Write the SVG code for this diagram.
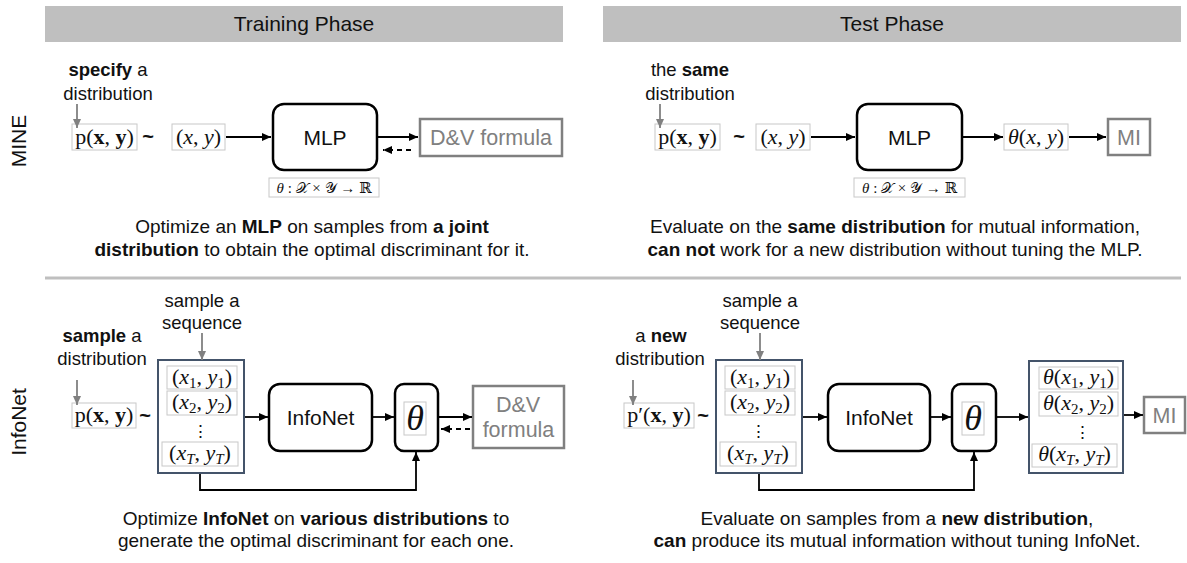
<svg xmlns="http://www.w3.org/2000/svg" width="1187" height="563" viewBox="0 0 1187 563">
  <style>
    text { font-family: "Liberation Sans", Arial, sans-serif; fill: #111; }
    .hdr { font-size: 21px; text-anchor: middle; }
    .side { font-size: 21px; text-anchor: middle; }
    .lbl { font-size: 18.5px; text-anchor: middle; }
    .cap { font-size: 19px; text-anchor: middle; }
    .b { font-weight: bold; }
    .node-t { font-size: 21px; text-anchor: middle; }
    .gray-t { font-size: 21.5px; text-anchor: middle; fill: #808080; }
    .m { font-family: "Liberation Serif", "DejaVu Serif", serif; font-size: 22px; text-anchor: middle; }
    .ml { font-family: "Liberation Serif", "DejaVu Serif", "DejaVu Sans", serif; font-size: 15px; text-anchor: middle; }
    .big { font-size: 36px; font-style: italic; }
    .dots { font-size: 17px; }
    .tilde { font-size: 20px; font-weight: bold; text-anchor: middle; }
    .sub { font-size: 15px; font-style: normal; }
    .i { font-style: italic; }
    .mbox { fill: #fff; stroke: #c8c8c8; stroke-width: 1; }
    .node { fill: #fff; stroke: #000; stroke-width: 2.5; }
    .gnode { fill: #fff; stroke: #808080; stroke-width: 2.5; }
    .seq { fill: #fff; stroke: #44546a; stroke-width: 2; }
    .hbar { fill: #bfbfbf; }
    .edge { fill: none; stroke: #000; stroke-width: 1.8; }
    .dash { fill: none; stroke: #000; stroke-width: 1.8; stroke-dasharray: 5 4; }
    .gedge { fill: none; stroke: #808080; stroke-width: 1.8; }
  </style>
  <defs>
    <marker id="ah" markerUnits="userSpaceOnUse" markerWidth="9" markerHeight="8" refX="9" refY="4" orient="auto">
      <path d="M0,0 L9,4 L0,8 z" fill="#000"/>
    </marker>
    <marker id="ahg" markerUnits="userSpaceOnUse" markerWidth="9" markerHeight="8" refX="9" refY="4" orient="auto">
      <path d="M0,0 L9,4 L0,8 z" fill="#808080"/>
    </marker>
  </defs>

  <!-- phase headers and row separator -->
  <g id="headers">
    <rect class="hbar" x="45" y="6" width="518" height="36"/>
    <text class="hdr" x="304" y="31">Training Phase</text>
    <rect class="hbar" x="603" y="6" width="578" height="36"/>
    <text class="hdr" x="892" y="31">Test Phase</text>
    <line x1="45" y1="278" x2="1181" y2="278" stroke="#bfbfbf" stroke-width="3"/>
  </g>

  <!-- row labels -->
  <g id="row-labels">
    <text class="side" transform="translate(26,141) rotate(-90)">MINE</text>
    <text class="side" transform="translate(26,422) rotate(-90)">InfoNet</text>
  </g>

  <!-- ============ MINE / training ============ -->
  <g id="mine-train-dist">
    <text class="lbl" x="108" y="76"><tspan class="b">specify</tspan> a</text>
    <text class="lbl" x="108" y="100">distribution</text>
    <rect class="mbox" x="72" y="124" width="65" height="26"/>
    <text class="m" x="104.5" y="144">p(<tspan class="b">x</tspan>, <tspan class="b">y</tspan>)</text>
    <text class="tilde" x="148" y="143">~</text>
  </g>
  <g id="mine-train-sample">
    <rect class="mbox" x="172" y="124" width="53" height="26"/>
    <text class="m" x="198.5" y="144">(<tspan class="i">x</tspan>, <tspan class="i">y</tspan>)</text>
  </g>
  <g id="mine-train-mlp">
    <rect class="node" x="273" y="104" width="104" height="66" rx="11"/>
    <text class="node-t" x="325" y="145">MLP</text>
    <rect class="mbox" x="269" y="178" width="110" height="19"/>
    <text class="ml" x="324" y="193"><tspan class="i">θ</tspan> : 𝒳 × 𝒴 → ℝ</text>
  </g>
  <g id="mine-train-dv">
    <rect class="gnode" x="420" y="119" width="142" height="37"/>
    <text class="gray-t" x="491" y="145">D&amp;V formula</text>
  </g>
  <g id="mine-train-caption">
    <text class="cap" x="312" y="233">Optimize an <tspan class="b">MLP</tspan> on samples from <tspan class="b">a joint</tspan></text>
    <text class="cap" x="312" y="256"><tspan class="b">distribution</tspan> to obtain the optimal discriminant for it.</text>
  </g>

  <!-- ============ MINE / test ============ -->
  <g id="mine-test-dist">
    <text class="lbl" x="690" y="76">the <tspan class="b">same</tspan></text>
    <text class="lbl" x="690" y="100">distribution</text>
    <rect class="mbox" x="655" y="124" width="65" height="26"/>
    <text class="m" x="687.5" y="144">p(<tspan class="b">x</tspan>, <tspan class="b">y</tspan>)</text>
    <text class="tilde" x="739" y="143">~</text>
  </g>
  <g id="mine-test-sample">
    <rect class="mbox" x="756" y="124" width="54" height="26"/>
    <text class="m" x="783" y="144">(<tspan class="i">x</tspan>, <tspan class="i">y</tspan>)</text>
  </g>
  <g id="mine-test-mlp">
    <rect class="node" x="857" y="104" width="105" height="66" rx="11"/>
    <text class="node-t" x="909.5" y="145">MLP</text>
    <rect class="mbox" x="854" y="178" width="111" height="19"/>
    <text class="ml" x="909.5" y="193"><tspan class="i">θ</tspan> : 𝒳 × 𝒴 → ℝ</text>
  </g>
  <g id="mine-test-score">
    <rect class="mbox" x="1004" y="124" width="64" height="26"/>
    <text class="m" x="1036" y="144"><tspan class="i">θ</tspan>(<tspan class="i">x</tspan>, <tspan class="i">y</tspan>)</text>
  </g>
  <g id="mine-test-mi">
    <rect class="gnode" x="1108" y="119" width="42" height="36"/>
    <text class="gray-t" x="1129" y="145">MI</text>
  </g>
  <g id="mine-test-caption">
    <text class="cap" x="895" y="233">Evaluate on the <tspan class="b">same distribution</tspan> for mutual information,</text>
    <text class="cap" x="895" y="256"><tspan class="b">can not</tspan> work for a new distribution without tuning the MLP.</text>
  </g>

  <!-- ============ InfoNet / training ============ -->
  <g id="info-train-dist">
    <text class="lbl" x="102" y="342"><tspan class="b">sample</tspan> a</text>
    <text class="lbl" x="102" y="365">distribution</text>
    <rect class="mbox" x="72" y="403" width="64" height="25"/>
    <text class="m" x="104" y="422">p(<tspan class="b">x</tspan>, <tspan class="b">y</tspan>)</text>
    <text class="tilde" x="145" y="422">~</text>
  </g>
  <g id="info-train-seq">
    <text class="lbl" x="202" y="307">sample a</text>
    <text class="lbl" x="202" y="329">sequence</text>
    <rect class="seq" x="158" y="360" width="86" height="113"/>
    <rect class="mbox" x="167" y="366" width="70" height="23"/>
    <text class="m" x="202" y="384">(<tspan class="i">x</tspan><tspan class="sub" dy="4">1</tspan><tspan dy="-4">, </tspan><tspan class="i">y</tspan><tspan class="sub" dy="4">1</tspan><tspan dy="-4">)</tspan></text>
    <rect class="mbox" x="167" y="391" width="70" height="24"/>
    <text class="m" x="202" y="409">(<tspan class="i">x</tspan><tspan class="sub" dy="4">2</tspan><tspan dy="-4">, </tspan><tspan class="i">y</tspan><tspan class="sub" dy="4">2</tspan><tspan dy="-4">)</tspan></text>
    <text class="m dots" x="200" y="437">⋮</text>
    <rect class="mbox" x="162" y="442" width="76" height="24"/>
    <text class="m" x="200" y="460">(<tspan class="i">x</tspan><tspan class="sub i" dy="4">T</tspan><tspan dy="-4">, </tspan><tspan class="i">y</tspan><tspan class="sub i" dy="4">T</tspan><tspan dy="-4">)</tspan></text>
  </g>
  <g id="info-train-net">
    <rect class="node" x="269" y="384" width="103" height="67" rx="11"/>
    <text class="node-t" x="320.5" y="425">InfoNet</text>
  </g>
  <g id="info-train-theta">
    <rect class="node" x="395" y="384" width="43" height="67" rx="9"/>
    <rect class="mbox" x="404" y="402" width="22" height="33"/>
    <text class="m big" x="415" y="430">θ</text>
  </g>
  <g id="info-train-dv">
    <rect class="gnode" x="473" y="386" width="91" height="62"/>
    <text class="gray-t" x="518" y="412">D&amp;V</text>
    <text class="gray-t" x="518.5" y="437">formula</text>
  </g>
  <g id="info-train-caption">
    <text class="cap" x="316" y="525">Optimize <tspan class="b">InfoNet</tspan> on <tspan class="b">various distributions</tspan> to</text>
    <text class="cap" x="316" y="547">generate the optimal discriminant for each one.</text>
  </g>

  <!-- ============ InfoNet / test ============ -->
  <g id="info-test-dist">
    <text class="lbl" x="661" y="342">a <tspan class="b">new</tspan></text>
    <text class="lbl" x="660" y="365">distribution</text>
    <rect class="mbox" x="624" y="403" width="70" height="25"/>
    <text class="m" x="659" y="422">p′(<tspan class="b">x</tspan>, <tspan class="b">y</tspan>)</text>
    <text class="tilde" x="703" y="422">~</text>
  </g>
  <g id="info-test-seq">
    <text class="lbl" x="760" y="307">sample a</text>
    <text class="lbl" x="760" y="329">sequence</text>
    <rect class="seq" x="716" y="360" width="86" height="113"/>
    <rect class="mbox" x="725" y="366" width="70" height="23"/>
    <text class="m" x="760" y="384">(<tspan class="i">x</tspan><tspan class="sub" dy="4">1</tspan><tspan dy="-4">, </tspan><tspan class="i">y</tspan><tspan class="sub" dy="4">1</tspan><tspan dy="-4">)</tspan></text>
    <rect class="mbox" x="725" y="391" width="70" height="24"/>
    <text class="m" x="760" y="409">(<tspan class="i">x</tspan><tspan class="sub" dy="4">2</tspan><tspan dy="-4">, </tspan><tspan class="i">y</tspan><tspan class="sub" dy="4">2</tspan><tspan dy="-4">)</tspan></text>
    <text class="m dots" x="758" y="437">⋮</text>
    <rect class="mbox" x="720" y="442" width="76" height="24"/>
    <text class="m" x="758" y="460">(<tspan class="i">x</tspan><tspan class="sub i" dy="4">T</tspan><tspan dy="-4">, </tspan><tspan class="i">y</tspan><tspan class="sub i" dy="4">T</tspan><tspan dy="-4">)</tspan></text>
  </g>
  <g id="info-test-net">
    <rect class="node" x="828" y="384" width="102" height="67" rx="11"/>
    <text class="node-t" x="879" y="425">InfoNet</text>
  </g>
  <g id="info-test-theta">
    <rect class="node" x="952" y="384" width="44" height="67" rx="9"/>
    <rect class="mbox" x="962" y="402" width="22" height="33"/>
    <text class="m big" x="973" y="430">θ</text>
  </g>
  <g id="info-test-scores">
    <rect class="seq" x="1029" y="361" width="94" height="112"/>
    <rect class="mbox" x="1039" y="367" width="79" height="22"/>
    <text class="m" x="1078.5" y="384"><tspan class="i">θ</tspan>(<tspan class="i">x</tspan><tspan class="sub" dy="4">1</tspan><tspan dy="-4">, </tspan><tspan class="i">y</tspan><tspan class="sub" dy="4">1</tspan><tspan dy="-4">)</tspan></text>
    <rect class="mbox" x="1039" y="392" width="79" height="24"/>
    <text class="m" x="1078.5" y="410"><tspan class="i">θ</tspan>(<tspan class="i">x</tspan><tspan class="sub" dy="4">2</tspan><tspan dy="-4">, </tspan><tspan class="i">y</tspan><tspan class="sub" dy="4">2</tspan><tspan dy="-4">)</tspan></text>
    <text class="m dots" x="1082" y="438">⋮</text>
    <rect class="mbox" x="1032" y="444" width="85" height="23"/>
    <text class="m" x="1074.5" y="461"><tspan class="i">θ</tspan>(<tspan class="i">x</tspan><tspan class="sub i" dy="4">T</tspan><tspan dy="-4">, </tspan><tspan class="i">y</tspan><tspan class="sub i" dy="4">T</tspan><tspan dy="-4">)</tspan></text>
  </g>
  <g id="info-test-mi">
    <rect class="gnode" x="1144" y="397" width="41" height="36"/>
    <text class="gray-t" x="1164.5" y="423">MI</text>
  </g>
  <g id="info-test-caption">
    <text class="cap" x="897" y="525">Evaluate on samples from a <tspan class="b">new distribution</tspan>,</text>
    <text class="cap" x="897" y="547"><tspan class="b">can</tspan> produce its mutual information without tuning InfoNet.</text>
  </g>

  <!-- ============ connectors ============ -->
  <g id="connectors">
    <!-- MINE training -->
    <line class="gedge" x1="77" y1="104" x2="77" y2="128" marker-end="url(#ahg)"/>
    <line class="edge" x1="226" y1="137" x2="271" y2="137" marker-end="url(#ah)"/>
    <line class="edge" x1="378" y1="137" x2="418" y2="137" marker-end="url(#ah)"/>
    <line class="dash" x1="411" y1="150" x2="383" y2="150" marker-end="url(#ah)"/>
    <!-- MINE test -->
    <line class="gedge" x1="660" y1="104" x2="660" y2="128" marker-end="url(#ahg)"/>
    <line class="edge" x1="811" y1="137" x2="855" y2="137" marker-end="url(#ah)"/>
    <line class="edge" x1="963" y1="137" x2="1003" y2="137" marker-end="url(#ah)"/>
    <line class="edge" x1="1069" y1="137" x2="1106" y2="137" marker-end="url(#ah)"/>
    <!-- InfoNet training -->
    <line class="gedge" x1="202" y1="333" x2="202" y2="360" marker-end="url(#ahg)"/>
    <line class="gedge" x1="77" y1="380" x2="77" y2="405" marker-end="url(#ahg)"/>
    <line class="edge" x1="245" y1="417" x2="268" y2="417" marker-end="url(#ah)"/>
    <line class="edge" x1="373" y1="417" x2="394" y2="417" marker-end="url(#ah)"/>
    <line class="edge" x1="439" y1="417" x2="472" y2="417" marker-end="url(#ah)"/>
    <line class="dash" x1="470" y1="429" x2="441" y2="429" marker-end="url(#ah)"/>
    <path class="edge" d="M200,474 V490 H416 V452" marker-end="url(#ah)"/>
    <!-- InfoNet test -->
    <line class="gedge" x1="760" y1="333" x2="760" y2="360" marker-end="url(#ahg)"/>
    <line class="gedge" x1="633" y1="380" x2="633" y2="405" marker-end="url(#ahg)"/>
    <line class="edge" x1="803" y1="417" x2="827" y2="417" marker-end="url(#ah)"/>
    <line class="edge" x1="931" y1="417" x2="951" y2="417" marker-end="url(#ah)"/>
    <line class="edge" x1="997" y1="417" x2="1028" y2="417" marker-end="url(#ah)"/>
    <line class="edge" x1="1124" y1="415" x2="1143" y2="415" marker-end="url(#ah)"/>
    <path class="edge" d="M759,474 V490 H974 V452" marker-end="url(#ah)"/>
  </g>
</svg>
